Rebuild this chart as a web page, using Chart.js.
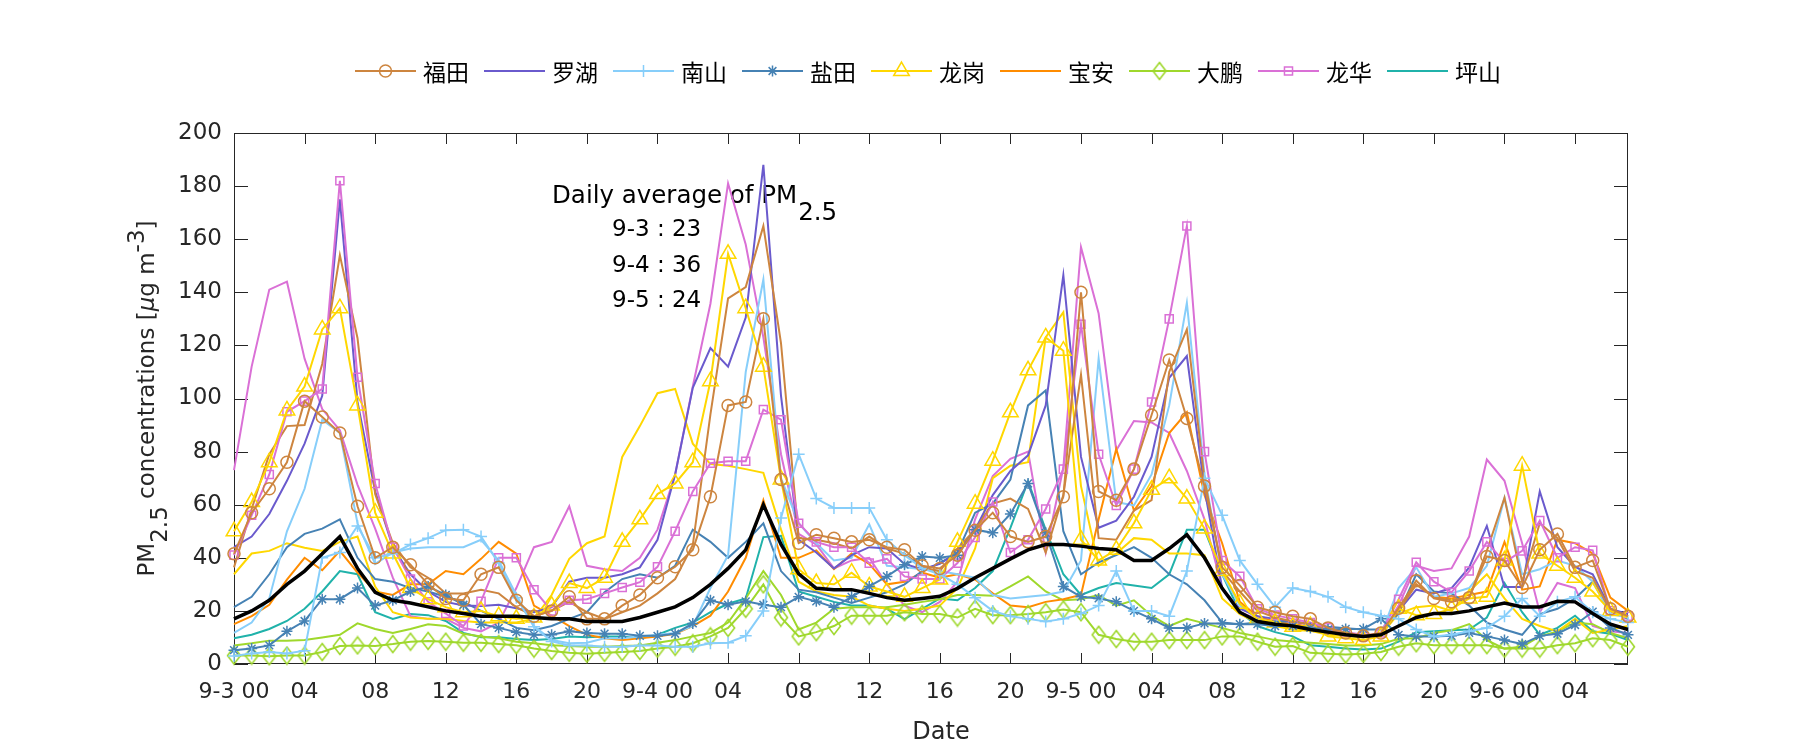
<!DOCTYPE html>
<html>
<head>
<meta charset="utf-8">
<title>PM2.5 Shenzhen</title>
<script src="https://cdn.jsdelivr.net/npm/chart.js@4.4.1/dist/chart.umd.min.js"></script>
<style>
  html, body { margin: 0; padding: 0; background: #fff; }
  #wrap { width: 1800px; height: 750px; }
</style>
</head>
<body>
<div id="wrap"><canvas id="myChart" width="1800" height="750"></canvas></div>
<script>
// x = hours since 9-3 00:00, one point per hour (9-3 00 .. 9-6 07)
const hours = Array.from({ length: 80 }, (_, i) => i);

// tick labels every 4 hours
const xTickHours = [0, 4, 8, 12, 16, 20, 24, 28, 32, 36, 40, 44, 48, 52, 56, 60, 64, 68, 72, 76];
const xTickLabels = ["9-3 00", "04", "08", "12", "16", "20", "9-4 00", "04", "08", "12", "16", "20",
  "9-5 00", "04", "08", "12", "16", "20", "9-6 00", "04"];
const yTickValues = [0, 20, 40, 60, 80, 100, 120, 140, 160, 180, 200];

// daily averages written in the plot
const dailyDays = ["9-3", "9-4", "9-5"];
const dailyAvg = [23, 36, 24];

// ---- station series (ug/m3) ----
const futianA = [41.5, 57, 66, 76, 99, 93, 87, 59.4, 40, 44, 37.4, 30, 24.7, 24, 33.8, 36.4, 24, 18, 20, 25.3, 17,
  17, 22, 26, 32.5, 36.6, 43, 63, 97.4, 98.7, 130, 69.5, 45.5, 48.7, 47.4, 46, 46.8, 44, 43, 37, 36,
  41, 50.4, 57, 48, 46, 48, 63, 140, 65, 61.7, 73.4, 93.8, 114.5, 92.5, 67, 36.4, 29.6, 21.4, 19.5, 18,
  17, 13.6, 11.7, 10.6, 11.7, 21, 31.4, 24.7, 23.4, 25, 40.5, 39, 28.8, 43, 49, 36.4, 39, 20.8, 18];
const futianB = [36.4, 58.4, 79, 89.6, 90, 113, 154, 122.7, 64, 45.5, 36.4, 32.5, 26.6, 26.6, 28, 26.6, 21.4, 18, 20, 23.4, 19.5,
  17, 19.5, 22, 26.6, 32, 44.8, 94, 137.7, 142, 165, 120.8, 47.4, 46.8, 45.5, 43.5, 48, 43.5, 41.6, 36.4, 35,
  43.5, 50.6, 60.4, 62.3, 58.4, 42, 63.6, 109, 47.4, 46.8, 57.8, 61.7, 110, 126, 69.5, 35, 27.3, 20, 17.5, 16,
  15, 13, 11.5, 10.5, 11, 20, 30, 25, 24, 25, 42.6, 62.6, 31, 53, 47.4, 35, 32.5, 20, 18];
const luohu = [44, 48, 56.5, 69, 83, 101, 175, 98.7, 65, 44, 33.8, 27.3, 23.4, 22, 21.8, 22.3, 21, 19.5, 21.4, 31, 32.5,
  32.5, 33.8, 36.4, 46.8, 71.4, 104, 119, 112, 130.5, 188, 101, 46.8, 42, 36, 41, 44, 43.5, 37.7, 35.7, 37.7,
  42, 50.6, 63.6, 72.7, 78.6, 97.4, 146.5, 78, 51.3, 54, 63, 78, 107.8, 116, 66, 28.6, 20.8, 18, 17, 16,
  15, 13, 11.5, 10.5, 11, 20, 28, 26.6, 28.6, 36.4, 52, 29, 29, 65, 44, 36.6, 33.8, 20.8, 18.8];
const nanshanA = [3, 4, 4.5, 4, 5, 40, 42, 52, 40, 41.5, 45, 47.4, 50.4, 50.6, 48, 38, 25, 14, 8.5, 7, 7,
  6.5, 6.5, 7, 7, 6.5, 6.5, 7.8, 8, 10.6, 20, 55, 79, 62.3, 58.8, 58.8, 58.8, 46.8, 41, 36, 33.8,
  30, 25, 20, 18, 17, 16, 17, 19, 22, 35, 20, 20, 18, 35, 70, 56, 39, 30, 21.4, 28.6,
  27.3, 25.3, 21.4, 19.5, 18.2, 17, 13, 10.4, 11, 12.3, 13.6, 18, 24.7, 18, 23.4, 25.3, 19.5, 17, 15.6];
const nanshanB = [11.7, 15.6, 24.7, 50, 66, 92, 87, 53, 37.7, 42, 43.5, 44, 44, 44, 46.8, 39, 26, 14.3, 9, 7.8, 8,
  9.7, 9.7, 10.4, 11, 11.7, 14.3, 28.6, 41, 110, 144.8, 70, 53, 45.5, 39, 40, 52.6, 37, 36.4, 35.7, 35,
  33.8, 32.5, 26, 24.7, 25.3, 26, 27.3, 39, 115, 61, 59.7, 71.4, 97.4, 136, 71.4, 33.8, 22, 17, 15.6, 14,
  13, 12, 11, 10.5, 11, 28.6, 36.4, 25.3, 26.6, 28.6, 37, 62.6, 33.8, 35.7, 39, 37, 31, 18.8, 17.5];
const yantianA = [5.2, 5.8, 7, 12.3, 16.2, 24.4, 24.4, 28.6, 22, 24, 27.3, 29.2, 26, 22.3, 15, 13.6, 12, 11, 11, 12.3, 11.7,
  11.4, 11.4, 10.6, 10.6, 11.4, 15.3, 24, 22.3, 23.6, 22.3, 21.4, 25.3, 23.6, 21.4, 25.3, 29.2, 33, 37.4, 40.5, 40,
  41, 50.6, 49.4, 56.5, 68, 49.4, 29.2, 25.3, 24.7, 23.4, 20, 17, 13.6, 13.6, 15.3, 15.3, 15, 15, 14.3, 14.3,
  13.6, 13, 13.2, 13.2, 17, 11, 10.4, 10.4, 10.6, 11.7, 10.4, 9, 7.5, 10.6, 11.4, 14.7, 19.7, 13.6, 11];
const yantianB = [21.4, 25.3, 33.8, 44, 49, 51, 54.5, 40, 32, 31, 28.6, 27.3, 25.3, 23.4, 20, 17, 13.6, 12.7, 14.3, 17, 19.5,
  27, 32, 33.8, 32.5, 37, 50.6, 46, 40, 46, 53, 35, 28, 27, 25, 23, 25, 27, 30, 35, 38,
  42, 57, 60.4, 69.5, 97.4, 103, 50, 33.8, 38.3, 41, 44, 40, 33.8, 30, 24, 15.6, 15, 15.6, 16, 16,
  15, 14, 13.5, 13, 13, 19, 33.8, 27.3, 26.6, 22, 15.6, 13, 11, 18.8, 20.8, 24.7, 31, 20, 17];
const longgangA = [50, 61, 76, 95.5, 104.5, 126, 134, 97.4, 57, 41.6, 28.6, 24.4, 21.4, 19.5, 20, 18, 17, 17.5, 22, 30.5, 28.6,
  32.5, 46, 54.5, 64, 68, 76, 106.5, 154.5, 134, 112, 69.5, 35.7, 30.5, 30, 34.4, 29.2, 27.3, 25.3, 28.6, 31.8,
  46, 60.4, 76.6, 94.8, 110.6, 123, 118, 46.8, 39, 43, 53, 65.6, 70, 62.3, 51, 35, 22.7, 17, 15.6, 14,
  14.3, 10.4, 9.7, 9, 10.4, 20.8, 18.4, 18.8, 20.8, 24.7, 25.3, 39, 74.7, 41.6, 37, 32.5, 27.3, 20, 17.5];
const longgangB = [33.8, 41.6, 42.6, 45.5, 43.8, 42.6, 46, 48, 29.2, 19.5, 17.5, 17, 17, 16.2, 15.6, 15.6, 15.6, 17, 26, 39.6, 45.5,
  48, 78, 89.6, 102, 103.6, 83, 75.3, 74.7, 73.4, 72, 50.6, 31, 27.3, 26, 25.3, 22, 20.8, 20, 20.8, 22,
  28.6, 43.5, 70, 74.7, 76, 123, 132.5, 67, 37, 41.6, 47.4, 46.8, 41.6, 41.6, 41, 24.7, 18.8, 15.6, 14.3, 13,
  12.5, 11, 10.5, 10, 11, 19, 21.4, 22, 20, 27.3, 33.8, 24.7, 17, 14.3, 12.3, 17, 11.7, 13, 14.3];
const baoan = [15, 18, 22.3, 31.8, 40, 35.3, 42.6, 34.4, 27.3, 26, 30, 30, 35, 33.8, 39.6, 46, 41.6, 22, 18.2, 14.3, 11,
  9.7, 9, 9.7, 10.4, 11.4, 14.3, 18.2, 27.3, 40, 61.7, 40, 40, 42.8, 35.7, 41.6, 37.7, 30, 31, 34.4, 32.5,
  33.8, 31.8, 26.6, 22, 21.4, 23.4, 24.4, 26, 54.5, 81, 57.8, 67, 87, 94.8, 63.6, 45.5, 23.4, 18, 15.8, 15,
  14, 12, 11, 10.5, 11, 21, 30, 25.3, 24.7, 26, 27.3, 46, 28, 29.2, 46.8, 45.5, 41.6, 25, 20];
const dapengA = [3.2, 3.2, 2.9, 3.2, 3.2, 4.5, 6.8, 7, 6.8, 7.5, 8.4, 8.7, 8.4, 8, 8, 7.5, 7.1, 5.8, 4.9, 4.2, 3.9,
  4.2, 4.5, 4.9, 5.8, 6.5, 7.8, 10.4, 13.6, 20.8, 30, 17.5, 10.4, 12, 14.3, 18.2, 18.2, 18.2, 19.5, 18.8, 18.8,
  17.5, 20.8, 18.4, 18.4, 18.8, 19.5, 20.5, 19.5, 11, 9.4, 8.4, 8.4, 9, 9, 9, 10.4, 10.4, 8.4, 6.5, 6.8,
  4.2, 3.9, 3.6, 3.9, 4.5, 6.5, 7.8, 7.1, 7.1, 7.1, 7.1, 5.8, 5.8, 5.8, 7.1, 7.8, 9.7, 9, 6.5];
const dapengB = [7, 7.8, 8.8, 8.8, 9, 10, 11, 15.3, 13.2, 11.7, 13.2, 15, 14.3, 11.4, 10.4, 9.7, 8.4, 7.8, 7.1, 6.8, 6.5,
  6.5, 6.8, 7, 8, 9, 10.4, 11.7, 15.6, 24.7, 35, 26, 13, 15.6, 20.8, 21.4, 21.4, 21.4, 22.3, 23.4, 24.4,
  26, 26, 25.7, 29.2, 33, 27.3, 24, 24.4, 26, 22, 24, 18.2, 14.3, 17, 15.3, 13.6, 11.7, 10.4, 9, 8.5,
  8, 7.5, 7, 7, 7.5, 9.5, 9.7, 11.7, 12.7, 15, 9, 5.8, 6.5, 10.4, 12.3, 15.6, 15, 11.7, 9.7];
const longhuaA = [41, 56, 71.4, 95, 99, 103.6, 182, 108, 68, 44, 32, 23.4, 19, 14.3, 23.6, 40, 40, 28, 20, 24, 24.4,
  26.6, 28.8, 30.8, 36.6, 50, 65, 75.6, 76.4, 76.4, 95.8, 92, 53, 46, 44, 44, 38, 39.6, 33, 32, 32,
  38, 47.7, 61, 42, 46.8, 58.4, 73.4, 128, 79, 59.7, 73.4, 98.7, 130, 165, 80, 39, 33, 20.8, 18.4, 17,
  15.6, 13.6, 11.7, 10.4, 11.7, 24.4, 38.3, 31, 27, 35, 46, 38.3, 42.6, 54, 40, 44, 42.8, 20, 18];
const longhuaB = [73, 112, 141, 144, 115, 96, 88, 67.5, 51, 32.5, 18, 17, 17, 13.6, 12.3, 15.6, 28.6, 44, 46, 59.4, 37,
  35.7, 35, 40, 50.6, 71.4, 104.5, 135.7, 181, 158, 123, 79, 49, 45, 36, 39, 40, 30, 22, 19.5, 23.4,
  31, 54.5, 70.8, 77.3, 80, 42, 74, 157, 132, 80.5, 91.5, 91, 87, 72.7, 54.5, 28.6, 19.5, 17, 16, 15,
  14, 13, 12, 11, 11, 22, 37, 35, 36, 48, 77, 69, 45.5, 19.5, 30.5, 28.6, 14.3, 12.3, 11.7];
const pingshan = [9.7, 11, 13.2, 16.2, 20.8, 27.3, 35, 33.8, 19.5, 17, 18.8, 18.4, 16.2, 11.7, 10.1, 10.1, 9.4, 9, 9.4, 10.4, 10.1,
  10.4, 10.4, 9.7, 11, 13.6, 15.6, 19.5, 22.7, 24.7, 47.8, 48.3, 27.3, 25.3, 23.4, 22, 22, 20.8, 16.9, 20.8, 24.7,
  24, 28.6, 35, 51.3, 68.8, 50.6, 33.8, 26, 28.6, 30.5, 29.6, 28.6, 33.8, 50.6, 50.6, 33.8, 19.5, 14.3, 12, 10.4,
  7.1, 6.5, 5.8, 5.5, 5.8, 8.4, 12, 12.3, 12.7, 13, 17.5, 30.5, 19.5, 11, 13.6, 18.2, 12.3, 11.4, 9];
// city average (thick black line)
const cityAvg = [17, 20, 24, 30, 35, 41.5, 48, 36, 27, 24, 23, 21.5, 20, 19, 18, 18, 18, 17.5, 17, 17, 16,
  16, 16, 17.5, 19.5, 21.5, 25, 30, 36, 43, 60, 45, 34, 28.5, 28, 28, 26.6, 25, 24, 24.7, 25.5,
  28.5, 32.5, 36, 39.6, 43, 45, 45, 44.4, 43.5, 43, 39, 39, 43.5, 48.7, 40, 28.5, 19.5, 16, 15, 14.3,
  13, 12, 11, 10.4, 11, 14.3, 17.5, 19, 19, 20, 21.5, 23, 21.5, 21.5, 23.6, 23.4, 19, 15, 13];

// taller-than-wide diamond like the matlab 'd' marker
function diamondImage(color) {
  const c = document.createElement("canvas");
  c.width = 16;
  c.height = 20;
  const g = c.getContext("2d");
  g.strokeStyle = color;
  g.lineWidth = 1.6;
  g.beginPath();
  g.moveTo(8, 1.5);
  g.lineTo(14.5, 10);
  g.lineTo(8, 18.5);
  g.lineTo(1.5, 10);
  g.closePath();
  g.stroke();
  return c;
}

const districts = [
  { name: "福田", color: "#CD853F", marker: "circle", r: 6, series: [futianA, futianB] },
  { name: "罗湖", color: "#6A5ACD", marker: null, r: 0, series: [luohu] },
  { name: "南山", color: "#87CEFA", marker: "cross", r: 6, series: [nanshanA, nanshanB] },
  { name: "盐田", color: "#4682B4", marker: "star", r: 5.5, series: [yantianA, yantianB] },
  { name: "龙岗", color: "#FFD700", marker: "triangle", r: 9, series: [longgangA, longgangB] },
  { name: "宝安", color: "#FF8C00", marker: null, r: 0, series: [baoan] },
  { name: "大鹏", color: "#9FD82C", marker: "diamond", r: 7, series: [dapengA, dapengB] },
  { name: "龙华", color: "#DA70D6", marker: "rect", r: 5.7, series: [longhuaA, longhuaB] },
  { name: "坪山", color: "#20B2AA", marker: null, r: 0, series: [pingshan] },
];
for (const d of districts) {
  if (d.marker === "diamond") d.img = diamondImage(d.color);
}

let datasets = [
  {
    label: "average",
    data: cityAvg,
    borderColor: "#000",
    borderWidth: 3.5,
    pointRadius: 0,
    order: 0,
  },
];
for (const d of districts) {
  d.series.forEach((s, k) => {
    const marked = k === 0 && d.marker;
    datasets.push({
      label: d.name + (k ? " 2" : ""),
      data: s,
      borderColor: d.color,
      borderWidth: 2,
      pointStyle: marked ? (d.img || d.marker) : false,
      pointRadius: marked ? d.r : 0,
      pointBorderColor: d.color,
      pointBackgroundColor: "rgba(0,0,0,0)",
      pointBorderWidth: 1.5,
      order: marked ? 1 : 2,
    });
  });
}

function drawMarker(ctx, d, x, y) {
  const r = d.r;
  const style = d.marker;
  if (d.img) {
    ctx.drawImage(d.img, x - d.img.width / 2, y - d.img.height / 2);
    return;
  }
  ctx.beginPath();
  if (style === "circle") {
    ctx.arc(x, y, r, 0, Math.PI * 2);
  } else if (style === "rect") {
    const s = r * Math.SQRT1_2;
    ctx.rect(x - s, y - s, 2 * s, 2 * s);
  } else if (style === "triangle") {
    for (let k = 0; k < 3; k++) {
      const a = (k * 2 * Math.PI) / 3;
      const px = x + Math.sin(a) * r;
      const py = y - Math.cos(a) * r;
      if (k === 0) ctx.moveTo(px, py);
      else ctx.lineTo(px, py);
    }
    ctx.closePath();
  } else if (style === "cross" || style === "star") {
    ctx.moveTo(x - r, y);
    ctx.lineTo(x + r, y);
    ctx.moveTo(x, y - r);
    ctx.lineTo(x, y + r);
    if (style === "star") {
      const o = r * Math.SQRT1_2;
      ctx.moveTo(x - o, y - o);
      ctx.lineTo(x + o, y + o);
      ctx.moveTo(x - o, y + o);
      ctx.lineTo(x + o, y - o);
    }
  }
  ctx.stroke();
}

// axes box, inward ticks, annotation (under the lines)
const framePlugin = {
  id: "frame",
  beforeDatasetsDraw(chart) {
    const { ctx, chartArea: a, scales } = chart;
    ctx.save();
    // annotation text
    ctx.fillStyle = "#000";
    ctx.textBaseline = "alphabetic";
    ctx.textAlign = "left";
    const head = "Daily average of PM";
    ctx.font = '24.5px "DejaVu Sans"';
    ctx.fillText(head, 552, 203);
    ctx.fillText("2.5", 552 + ctx.measureText(head).width + 1, 220);
    ctx.font = '23px "DejaVu Sans"';
    dailyDays.forEach((d, i) => {
      ctx.fillText(d + " : " + dailyAvg[i], 612, 236 + i * 35.5);
    });
    // box
    ctx.strokeStyle = "#262626";
    ctx.lineWidth = 1;
    ctx.strokeRect(a.left + 0.5, a.top + 0.5, a.right - a.left - 1, a.bottom - a.top - 1);
    ctx.beginPath();
    for (const h of xTickHours) {
      const px = Math.round(scales.x.getPixelForValue(h)) + 0.5;
      ctx.moveTo(px, a.bottom);
      ctx.lineTo(px, a.bottom - 11);
      ctx.moveTo(px, a.top);
      ctx.lineTo(px, a.top + 11);
    }
    for (const v of yTickValues) {
      const py = Math.round(scales.y.getPixelForValue(v)) + 0.5;
      ctx.moveTo(a.left, py);
      ctx.lineTo(a.left + 14, py);
      ctx.moveTo(a.right, py);
      ctx.lineTo(a.right - 14, py);
    }
    ctx.stroke();
    ctx.restore();
  },
  afterDraw(chart) {
    const { ctx, chartArea: a } = chart;
    ctx.save();
    // legend
    ctx.font = '23px "Noto Sans CJK SC"';
    ctx.textBaseline = "middle";
    ctx.textAlign = "left";
    let lx = 355;
    const ly = 71;
    for (const d of districts) {
      ctx.strokeStyle = d.color;
      ctx.lineWidth = 2;
      ctx.beginPath();
      ctx.moveTo(lx, ly);
      ctx.lineTo(lx + 61, ly);
      ctx.stroke();
      if (d.marker) {
        ctx.lineWidth = 1.5;
        drawMarker(ctx, d, lx + 30.5, ly);
      }
      ctx.fillStyle = "#000";
      ctx.fillText(d.name, lx + 68, ly + 1);
      lx += 61 + 7 + ctx.measureText(d.name).width + 15;
    }

    // x title
    ctx.fillStyle = "#262626";
    ctx.font = '24px "DejaVu Sans"';
    ctx.textAlign = "center";
    ctx.textBaseline = "middle";
    ctx.fillText("Date", 941, 733);

    // y title with sub/superscripts
    ctx.translate(146, (a.top + a.bottom) / 2);
    ctx.rotate(-Math.PI / 2);
    const fs = 23;
    const parts = [
      { t: "PM", dy: 0 },
      { t: "2.5", dy: 0.55 * fs },
      { t: " concentrations [", dy: 0 },
      { t: "\u03bc", dy: 0, it: true },
      { t: "g m", dy: 0 },
      { t: "-3", dy: -0.45 * fs },
      { t: "]", dy: 0 },
    ];
    ctx.textAlign = "left";
    ctx.textBaseline = "alphabetic";
    let total = 0;
    for (const p of parts) {
      ctx.font = (p.it ? "italic " : "") + fs + 'px "DejaVu Sans"';
      p.w = ctx.measureText(p.t).width;
      total += p.w;
    }
    let tx = -total / 2;
    for (const p of parts) {
      ctx.font = (p.it ? "italic " : "") + fs + 'px "DejaVu Sans"';
      ctx.fillText(p.t, tx, 8 + p.dy);
      tx += p.w;
    }
    ctx.restore();
  },
};

const config = {
  type: "line",
  data: { labels: hours, datasets: datasets },
  options: {
    responsive: false,
    animation: false,
    devicePixelRatio: 1,
    layout: { padding: { top: 133, right: 172, bottom: 0, left: 0 } },
    elements: { line: { tension: 0 } },
    datasets: { line: { clip: false } },
    plugins: {
      legend: { display: false },
      tooltip: { enabled: false },
    },
    scales: {
      x: {
        type: "linear",
        min: 0,
        max: 79,
        grid: { display: false, drawTicks: false },
        border: { display: false },
        afterBuildTicks: (scale) => {
          scale.ticks = xTickHours.map((v) => ({ value: v }));
        },
        afterFit: (scale) => {
          scale.height = 86;
        },
        ticks: {
          autoSkip: false,
          maxRotation: 0,
          padding: 15,
          color: "#262626",
          font: { family: "DejaVu Sans", size: 22 },
          callback: (v) => xTickLabels[xTickHours.indexOf(v)],
        },
      },
      y: {
        min: 0,
        max: 200,
        grid: { display: false, drawTicks: false },
        border: { display: false },
        afterBuildTicks: (scale) => {
          scale.ticks = yTickValues.map((v) => ({ value: v }));
        },
        afterFit: (scale) => {
          scale.width = 234;
        },
        ticks: {
          padding: 12,
          color: "#262626",
          font: { family: "DejaVu Sans", size: 23 },
        },
      },
    },
  },
  plugins: [framePlugin],
};

let myChart = new Chart(document.getElementById("myChart").getContext("2d"), config);
</script>
</body>
</html>
